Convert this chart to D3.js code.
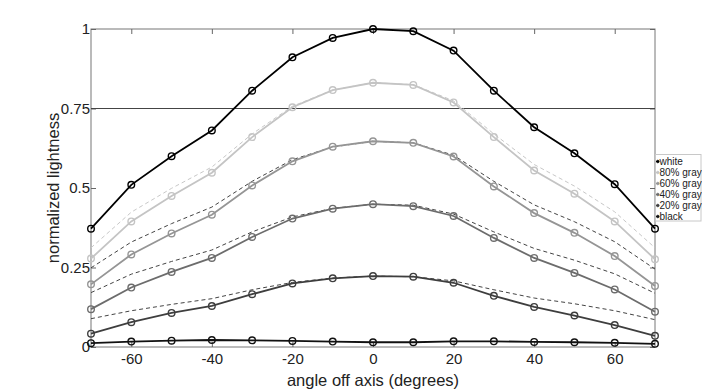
<html>
<head>
    <script src="https://d3js.org/d3.v7.min.js"></script>
    <style>
        body { margin: 0; background: #fff; }
        text { font-family: "Liberation Sans", Arial, sans-serif; fill: #222; }
        .axis .domain { stroke: none; }
        .axis line { stroke: #666; }
        .axis text { font-size: 15px; fill: #222; }
    </style>
</head>
<body>
<svg id="chart" width="702" height="390"></svg>
<script>
    // angles (degrees)
    const angles = [-70, -60, -50, -40, -30, -20, -10, 0, 10, 20, 30, 40, 50, 60, 70];

    const seriesNames = ["white", "80% gray", "60% gray", "40% gray", "20% gray", "black"];
    const seriesColors = ["#000000", "#c4c4c4", "#959595", "#6c6c6c", "#3e3e3e", "#111111"];

    const white  = [0.372, 0.510, 0.600, 0.681, 0.806, 0.911, 0.972, 1.000, 0.993, 0.932, 0.806, 0.691, 0.609, 0.512, 0.372];
    const gray80 = [0.278, 0.395, 0.475, 0.548, 0.660, 0.754, 0.808, 0.831, 0.824, 0.769, 0.660, 0.555, 0.482, 0.395, 0.276];
    const gray60 = [0.197, 0.291, 0.357, 0.416, 0.508, 0.584, 0.630, 0.647, 0.642, 0.599, 0.505, 0.421, 0.359, 0.286, 0.192];
    const gray40 = [0.119, 0.187, 0.236, 0.280, 0.346, 0.404, 0.435, 0.449, 0.443, 0.412, 0.343, 0.280, 0.233, 0.181, 0.111];
    const gray20 = [0.042, 0.078, 0.107, 0.129, 0.166, 0.200, 0.216, 0.223, 0.221, 0.202, 0.161, 0.126, 0.099, 0.069, 0.035];
    const black  = [0.012, 0.017, 0.020, 0.022, 0.021, 0.019, 0.017, 0.015, 0.015, 0.018, 0.018, 0.016, 0.015, 0.013, 0.010];

    // dashed reference curves
    const ref80 = [0.312, 0.424, 0.499, 0.566, 0.670, 0.757, 0.808, 0.831, 0.825, 0.774, 0.670, 0.574, 0.506, 0.425, 0.312];
    const ref60 = [0.249, 0.330, 0.388, 0.440, 0.521, 0.589, 0.629, 0.647, 0.642, 0.603, 0.521, 0.447, 0.394, 0.331, 0.245];
    const ref40 = [0.171, 0.229, 0.269, 0.305, 0.362, 0.409, 0.436, 0.449, 0.446, 0.418, 0.362, 0.310, 0.273, 0.230, 0.169];
    const ref20 = [0.089, 0.114, 0.134, 0.152, 0.180, 0.203, 0.217, 0.223, 0.221, 0.208, 0.180, 0.154, 0.136, 0.114, 0.086];

    const refColors = ["#c8c8c8", "#444444", "#444444", "#444444"];

    const xTicks = [-60, -40, -20, 0, 20, 40, 60];
    const yTicks = [0, 0.25, 0.5, 0.75, 1];

    const seriesValues = [white, gray80, gray60, gray40, gray20, black];
    const refValues = [ref80, ref60, ref40, ref20];

    const svg = d3.select("svg#chart");
    const margin = { top: 29, right: 47, bottom: 43, left: 91 };
    const width = +svg.attr("width");
    const height = +svg.attr("height");
    const chartWidth = width - margin.left - margin.right;
    const chartHeight = height - margin.top - margin.bottom;

    const xScale = d3.scaleLinear().domain([-70, 70]).range([margin.left, margin.left + chartWidth]);
    const yScale = d3.scaleLinear().domain([0, 1]).range([margin.top + chartHeight, margin.top]);

    // box
    svg.append("rect")
        .attr("x", margin.left).attr("y", margin.top)
        .attr("width", chartWidth).attr("height", chartHeight)
        .attr("fill", "none").attr("stroke", "#777").attr("stroke-width", 1);

    // axes with inward ticks
    svg.append("g").attr("class", "axis")
        .attr("transform", `translate(0,${margin.top + chartHeight})`)
        .call(d3.axisBottom(xScale).tickValues(xTicks).tickSizeInner(-5).tickSizeOuter(0)
            .tickPadding(6).tickFormat(d => String(d)));
    svg.append("g").attr("class", "axis")
        .attr("transform", `translate(0,${margin.top})`)
        .call(d3.axisTop(xScale).tickValues(xTicks).tickSizeInner(-5).tickSizeOuter(0).tickFormat(""));
    svg.append("g").attr("class", "axis")
        .attr("transform", `translate(${margin.left},0)`)
        .call(d3.axisLeft(yScale).tickValues(yTicks).tickSizeInner(-5).tickSizeOuter(0)
            .tickPadding(1).tickFormat(d => String(d)));
    svg.append("g").attr("class", "axis")
        .attr("transform", `translate(${margin.left + chartWidth},0)`)
        .call(d3.axisRight(yScale).tickValues(yTicks).tickSizeInner(-5).tickSizeOuter(0).tickFormat(""));

    // horizontal line at 0.75
    svg.append("line")
        .attr("x1", margin.left).attr("x2", margin.left + chartWidth)
        .attr("y1", yScale(0.75)).attr("y2", yScale(0.75))
        .attr("stroke", "#444").attr("stroke-width", 1.2);

    const line = d3.line()
        .x((d, i) => xScale(angles[i]))
        .y(d => yScale(d));

    // dashed references
    svg.selectAll("path.ref").data(refValues)
        .join("path")
        .attr("class", "ref")
        .attr("d", d => line(d))
        .attr("fill", "none")
        .attr("stroke", (d, i) => refColors[i])
        .attr("stroke-width", 1)
        .attr("stroke-dasharray", "4,3");

    // series
    seriesValues.forEach((vals, k) => {
        const g = svg.append("g");
        g.append("path")
            .attr("d", line(vals))
            .attr("fill", "none")
            .attr("stroke", seriesColors[k])
            .attr("stroke-width", 1.8);
        g.selectAll("circle").data(vals)
            .join("circle")
            .attr("cx", (d, i) => xScale(angles[i]))
            .attr("cy", d => yScale(d))
            .attr("r", 3.3)
            .attr("fill", "none")
            .attr("stroke", seriesColors[k])
            .attr("stroke-width", 1.4);
    });

    // axis titles
    svg.append("text")
        .attr("x", xScale(0)).attr("y", 386)
        .attr("text-anchor", "middle")
        .style("font-size", "16.5px")
        .text("angle off axis (degrees)");
    svg.append("text")
        .attr("transform", `translate(58.5,${margin.top + chartHeight / 2}) rotate(-90)`)
        .attr("text-anchor", "middle")
        .style("font-size", "16.5px")
        .text("normalized lightness");

    // legend
    const legend = svg.append("g");
    legend.append("rect")
        .attr("x", 655.5).attr("y", 154.5).attr("width", 45.5).attr("height", 66.5)
        .attr("fill", "#fff").attr("stroke", "#c8c8c8");
    seriesNames.forEach((name, k) => {
        const y = 161.5 + k * 11;
        legend.append("line")
            .attr("x1", 656).attr("x2", 659).attr("y1", y).attr("y2", y)
            .attr("stroke", seriesColors[k]).attr("stroke-width", 1);
        legend.append("circle")
            .attr("cx", 657.8).attr("cy", y).attr("r", 1.3)
            .attr("fill", seriesColors[k]).attr("stroke", seriesColors[k]).attr("stroke-width", 0.8);
        legend.append("text")
            .attr("x", 659.5).attr("y", y + 3.6)
            .style("font-size", "10px")
            .text(name);
    });
</script>
</body>
</html>
